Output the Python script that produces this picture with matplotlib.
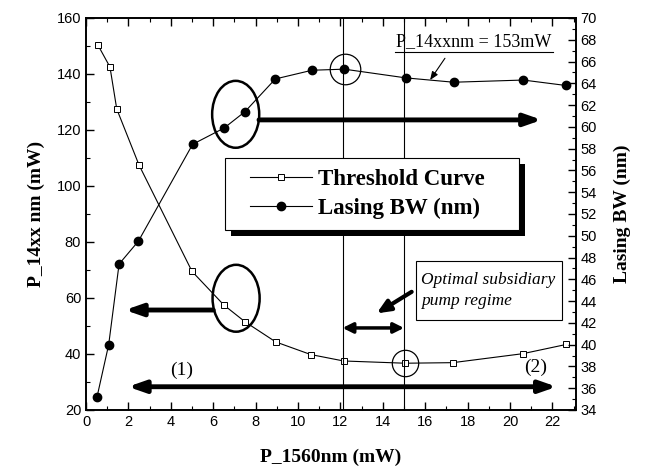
import matplotlib
matplotlib.use('Agg')
import matplotlib.pyplot as plt
from matplotlib.patches import Ellipse, Rectangle
from matplotlib.ticker import MultipleLocator

# data
x_thr = [0.55, 1.13, 1.45, 2.5, 5.0, 6.5, 7.5, 8.95, 10.6, 12.15, 15.05, 17.3, 20.6, 22.65]
thr = [150.5, 142.5, 127.5, 107.5, 69.5, 57.5, 51.5, 44.3, 39.8, 37.5, 36.7, 36.9, 40.1, 43.4]
x_bw = [0.52, 1.07, 1.56, 2.47, 5.03, 6.52, 7.5, 8.93, 10.66, 12.18, 15.08, 17.34, 20.63, 22.64]
bw = [35.2, 40.0, 47.4, 49.5, 58.4, 59.9, 61.4, 64.4, 65.2, 65.3, 64.5, 64.1, 64.3, 63.8]
regime_lines = [12.1, 15.0]

serif = 'Liberation Serif'
sans = 'Liberation Sans'

fig = plt.figure(figsize=(6.55, 4.72), dpi=100)
ax = fig.add_axes([0.1313, 0.1314, 0.7477, 0.8305])
ax2 = ax.twinx()

l1, = ax.plot(x_thr, thr, '-', color='black', lw=0.8, marker='s', ms=4.5,
              mfc='white', mec='black', mew=0.7, label='Threshold Curve')
l2, = ax2.plot(x_bw, bw, '-', color='black', lw=0.8, marker='o', ms=6,
               mfc='black', mec='black', label='Lasing BW (nm)')

ax.set_xlim(0, 23.1)
ax.set_ylim(20, 160)
ax2.set_ylim(34, 70)

ax.xaxis.set_major_locator(MultipleLocator(2))
ax.xaxis.set_minor_locator(MultipleLocator(1))
ax.yaxis.set_major_locator(MultipleLocator(20))
ax.yaxis.set_minor_locator(MultipleLocator(10))
ax2.yaxis.set_major_locator(MultipleLocator(2))
ax2.yaxis.set_minor_locator(MultipleLocator(1))

ax.tick_params(which='both', direction='in', top=True, right=False)
ax.tick_params(which='major', length=6, width=1)
ax.tick_params(which='minor', length=3, width=0.8)
ax2.tick_params(which='both', direction='in')
ax2.tick_params(which='major', length=6, width=1)
ax2.tick_params(which='minor', length=3, width=0.8)
for a in (ax, ax2):
    for lab in a.get_xticklabels() + a.get_yticklabels():
        lab.set_fontfamily(sans)
        lab.set_fontsize(10.5)
    for sp in a.spines.values():
        sp.set_linewidth(1.2)

ax.set_xlabel('P_1560nm (mW)', fontfamily=serif, fontweight='bold', fontsize=14, labelpad=14)
ax.set_ylabel('P_14xx nm (mW)', fontfamily=serif, fontweight='bold', fontsize=14, labelpad=8)
ax2.set_ylabel('Lasing BW (nm)', fontfamily=serif, fontweight='bold', fontsize=14, labelpad=12)

# vertical regime boundaries
for xv in regime_lines:
    ax.axvline(xv, color='black', lw=0.8)

# ellipses that tie each curve to its axis
ax.add_patch(Ellipse((7.06, 125.6), 2.22, 23.9, fill=False, lw=1.8, ec='black'))
ax.add_patch(Ellipse((7.08, 59.9), 2.22, 23.9, fill=False, lw=1.8, ec='black'))

# circles around special points
ax2.plot([12.2], [65.3], 'o', ms=22, mfc='none', mec='black', mew=0.9)
ax.plot([15.05], [36.7], 'o', ms=19, mfc='none', mec='black', mew=0.9)

big = dict(arrowstyle='-|>,head_length=1.0,head_width=0.35', lw=3.5, color='black',
           shrinkA=0, shrinkB=0)
ax.annotate('', xy=(21.5, 123.6), xytext=(8.16, 123.6), arrowprops=big)
ax.annotate('', xy=(1.84, 55.7), xytext=(6.0, 55.7), arrowprops=big)
dbl = dict(arrowstyle='<|-|>,head_length=1.0,head_width=0.35', lw=3.5, color='black',
           shrinkA=0, shrinkB=0)
ax.annotate('', xy=(22.2, 28.3), xytext=(1.98, 28.3), arrowprops=dbl)
small = dict(arrowstyle='<|-|>,head_length=0.6,head_width=0.3', lw=2.5, color='black',
             shrinkA=0, shrinkB=0)
ax.annotate('', xy=(15.0, 49.3), xytext=(12.1, 49.3), arrowprops=small)

ax.text(4.53, 34.3, '(1)', fontfamily=serif, fontsize=14, ha='center', va='center')
ax.text(21.2, 35.4, '(2)', fontfamily=serif, fontsize=14, ha='center', va='center')

# optimal regime box
ax.add_patch(Rectangle((15.57, 52.1), 6.88, 21.2, fc='white', ec='black', lw=0.8, zorder=3))
ax.text(15.8, 62.7, 'Optimal subsidiary\npump regime', fontfamily=serif, fontstyle='italic',
        fontsize=12.5, ha='left', va='center', linespacing=1.35, zorder=4)
ax.annotate('', xy=(13.71, 54.5), xytext=(15.36, 62.2),
            arrowprops=dict(arrowstyle='-|>,head_length=0.8,head_width=0.35', lw=3,
                            color='black', shrinkA=0, shrinkB=0))

# P_14xx annotation with underline
ax2.text(18.3, 67.05, 'P_14xxnm = 153mW', fontfamily=serif, fontsize=13,
         ha='center', va='bottom')
ax2.plot([14.57, 22.03], [66.85, 66.85], color='black', lw=0.8)
ax2.annotate('', xy=(16.23, 64.3), xytext=(16.93, 66.3),
             arrowprops=dict(arrowstyle='-|>,head_length=0.5,head_width=0.2', lw=0.8,
                             color='black', shrinkA=0, shrinkB=0))

# legend frame drawn by hand (wide box with a solid drop shadow)
ax2.add_patch(Rectangle((0.296, 0.444), 0.6, 0.184, transform=ax2.transAxes,
                        fc='black', ec='none', zorder=4.4))
ax2.add_patch(Rectangle((0.284, 0.459), 0.6, 0.184, transform=ax2.transAxes,
                        fc='white', ec='black', lw=0.8, zorder=4.5))
leg = ax2.legend([l1, l2], ['Threshold Curve', 'Lasing BW (nm)'], loc='center left',
                 bbox_to_anchor=(0.335, 0.551), borderaxespad=0, borderpad=0,
                 frameon=False, handlelength=2.7,
                 prop={'family': serif, 'weight': 'bold', 'size': 16.5},
                 labelspacing=0.35, handletextpad=0.25)
leg.set_zorder(5)

fig.savefig('out.png', dpi=100)
